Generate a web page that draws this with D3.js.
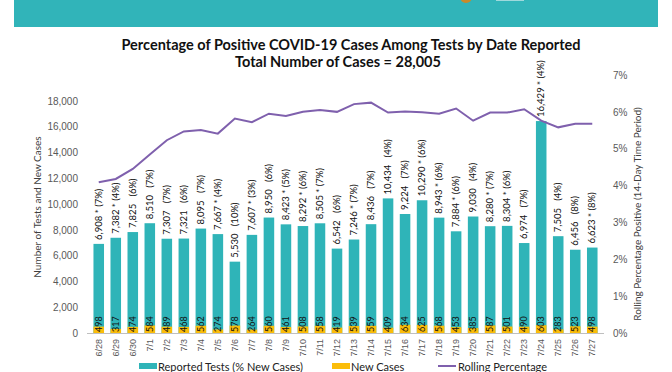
<!DOCTYPE html>
<html>
<head>
<meta charset="utf-8">
<script src="https://cdn.jsdelivr.net/npm/d3@7"></script>
<style>
  body { margin: 0; background: #fff; }
  svg { display: block; font-family: Lato, "Open Sans", sans-serif; }
</style>
</head>
<body>
<div id="chart"></div>
<script>
// data
const dates = ["6/28","6/29","6/30","7/1","7/2","7/3","7/4","7/5","7/6","7/7","7/8","7/9","7/10","7/11","7/12",
  "7/13","7/14","7/15","7/16","7/17","7/18","7/19","7/20","7/21","7/22","7/23","7/24","7/25","7/26","7/27"];
const tests = [6908,7382,7825,8510,7307,7321,8095,7667,5530,7607,8950,8423,8292,8505,6542,
  7246,8436,10434,9224,10290,8943,7884,9030,8280,8304,6974,16429,7505,6456,6623];
const newCases = [498,317,474,584,489,468,562,274,578,264,560,461,508,558,419,
  539,559,409,634,625,568,453,385,587,501,490,603,283,523,498];
const pctNew = [7,4,6,7,7,6,7,4,10,3,6,5,6,7,6,7,7,4,7,6,6,6,4,7,6,7,4,4,8,8];
const starred = [1,1,0,0,0,0,0,1,0,1,0,1,1,1,0,1,0,0,0,1,1,1,0,1,1,0,1,0,0,1];
const rolling = [4.09,4.18,4.45,4.84,5.23,5.47,5.51,5.41,5.82,5.72,5.95,5.89,6.0,6.05,6.0,
  6.21,6.25,5.98,6.01,5.99,5.95,6.09,5.76,5.98,5.98,6.07,5.76,5.58,5.68,5.68];
const leftTicks = [0,2000,4000,6000,8000,10000,12000,14000,16000,18000];
const rightTicks = [0,1,2,3,4,5,6,7];

const W = 672, H = 372;
const teal = "#2fb4b8", orange = "#fbbd0a", purple = "#7f60ad", grey = "#595959";

const svg = d3.select("#chart").append("svg")
  .attr("width", W).attr("height", H);

// header band
svg.append("rect").attr("x", 14).attr("y", 0).attr("width", 644).attr("height", 27).attr("fill", "#31b4b9");
svg.append("circle").attr("cx", 466).attr("cy", -3).attr("r", 6).attr("fill", "#c98a2a");
svg.append("rect").attr("x", 496).attr("y", -2).attr("width", 28).attr("height", 3)
  .attr("fill", "#9fd9dc");

// title
svg.append("text").attr("x", 351).attr("y", 50).attr("text-anchor", "middle")
  .attr("font-weight", "bold").attr("font-size", 14.5).attr("fill", "#111")
  .text("Percentage of Positive COVID-19 Cases Among Tests by Date Reported");
svg.append("text").attr("x", 338).attr("y", 67).attr("text-anchor", "middle")
  .attr("font-weight", "bold").attr("font-size", 14.5).attr("fill", "#111")
  .text("Total Number of Cases = 28,005");

const x = d3.scaleBand().domain(dates).range([87, 604]).padding(0.38);
const y = d3.scaleLinear().domain([0, 20000]).range([333, 75]);
const yR = d3.scaleLinear().domain([0, 7]).range([333, 75]);

// left axis
const gl = svg.append("g").attr("transform", "translate(82,0)")
  .call(d3.axisLeft(y).tickValues(leftTicks).tickSize(0).tickPadding(4).tickFormat(d3.format(",")));
gl.select(".domain").remove();
gl.selectAll("text").attr("font-size", 10).attr("fill", grey).attr("font-family", null);

// right axis
const gr = svg.append("g").attr("transform", "translate(610,0)")
  .call(d3.axisRight(yR).tickValues(rightTicks).tickSize(0).tickPadding(3).tickFormat(d => d + "%"));
gr.select(".domain").remove();
gr.selectAll("text").attr("font-size", 10).attr("fill", grey).attr("font-family", null);

// axis titles
svg.append("text").attr("transform", "translate(41,207) rotate(-90)").attr("text-anchor", "middle")
  .attr("font-size", 10).attr("fill", "#404040").text("Number of Tests and New Cases");
svg.append("text").attr("transform", "translate(641,214) rotate(-90)").attr("text-anchor", "middle")
  .attr("font-size", 10).attr("fill", "#404040").text("Rolling Percentage Positive (14-Day Time Period)");

// bars
const rows = dates.map((d, i) => ({ d, t: tests[i], c: newCases[i], p: pctNew[i], s: starred[i], r: rolling[i] }));

svg.append("g").selectAll("rect").data(rows).join("rect")
  .attr("x", d => x(d.d)).attr("width", x.bandwidth())
  .attr("y", d => y(d.t)).attr("height", d => y(0) - y(d.t))
  .attr("fill", teal);

svg.append("g").selectAll("rect").data(rows).join("rect")
  .attr("x", d => x(d.d)).attr("width", x.bandwidth())
  .attr("y", d => y(d.c)).attr("height", d => y(0) - y(d.c))
  .attr("fill", orange);

// bottom axis
const gx = svg.append("g").attr("transform", `translate(0,${y(0)})`)
  .call(d3.axisBottom(x).tickSize(0).tickPadding(0));
gx.select(".domain").attr("stroke", "#bfbfbf").attr("d", "M87,0.5H604");
gx.selectAll("text").attr("font-family", null).attr("font-size", 9).attr("fill", grey)
  .attr("text-anchor", "end").attr("dy", "0.35em")
  .attr("transform", "translate(0,6) rotate(-90)").attr("y", 0).attr("x", 0);

// labels above bars
svg.append("g").selectAll("text").data(rows).join("text")
  .attr("transform", d => `translate(${x(d.d) + x.bandwidth() / 2 + 3},${y(d.t) - 4}) rotate(-90)`)
  .attr("font-size", 9.5).attr("fill", "#111")
  .attr("xml:space", "preserve")
  .text(d => d3.format(",")(d.t) + (d.s ? " * " : "   ") + "(" + d.p + "%)");

// new case labels
svg.append("g").selectAll("text").data(rows).join("text")
  .attr("transform", d => `translate(${x(d.d) + x.bandwidth() / 2 + 3},${y(0) - 1}) rotate(-90)`)
  .attr("font-size", 9).attr("fill", "#111")
  .text(d => d.c);

// rolling line
const line = d3.line().x(d => x(d.d) + x.bandwidth() / 2).y(d => yR(d.r));
svg.append("path").datum(rows).attr("d", line)
  .attr("fill", "none").attr("stroke", purple).attr("stroke-width", 2);

// legend
const lg = svg.append("g");
lg.append("rect").attr("x", 139).attr("y", 363).attr("width", 18).attr("height", 6).attr("fill", teal);
lg.append("text").attr("x", 158).attr("y", 371).attr("font-size", 11).attr("fill", "#222").text("Reported Tests (% New Cases)");
lg.append("rect").attr("x", 332).attr("y", 363).attr("width", 18).attr("height", 6).attr("fill", orange);
lg.append("text").attr("x", 351).attr("y", 371).attr("font-size", 11).attr("fill", "#222").text("New Cases");
lg.append("line").attr("x1", 438).attr("x2", 456).attr("y1", 366).attr("y2", 366)
  .attr("stroke", purple).attr("stroke-width", 2);
lg.append("text").attr("x", 458).attr("y", 371).attr("font-size", 11).attr("fill", "#222").text("Rolling Percentage");
</script>
</body>
</html>
